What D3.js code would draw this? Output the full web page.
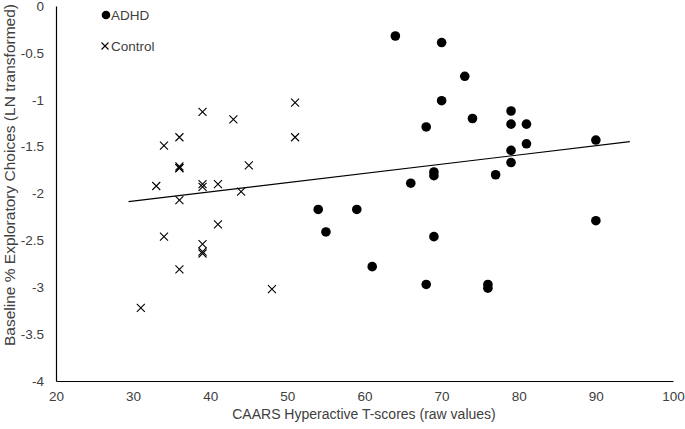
<!DOCTYPE html>
<html>
<head>
<meta charset="utf-8">
<script src="https://cdn.jsdelivr.net/npm/d3@7"></script>
<style>
  body { margin: 0; background: #fff; }
  text { font-family: "Liberation Sans", Arial, sans-serif; fill: #404040; }
</style>
</head>
<body>
<div id="scatter"></div>
<script>

// Data
// ==============================
var adhdX = [64, 70, 73, 70, 74, 68, 79, 79, 81, 81, 90, 79, 79, 77, 66, 69, 69, 54, 59, 55, 69, 61, 68, 76, 76, 90];
var adhdY = [-0.32, -0.39, -0.75, -1.01, -1.20, -1.29, -1.12, -1.26, -1.26, -1.47, -1.43, -1.54, -1.67, -1.80, -1.89, -1.77, -1.81, -2.17, -2.17, -2.41, -2.46, -2.78, -2.97, -2.97, -3.01, -2.29];

var controlX = [31, 33, 34, 34, 36, 36, 36, 36, 36, 36, 39, 39, 39, 39, 39, 39, 41, 41, 43, 44, 45, 48, 51, 51];
var controlY = [-3.22, -1.92, -1.49, -2.46, -1.40, -1.71, -1.73, -2.07, -2.81, -1.73, -1.13, -1.90, -1.93, -2.54, -2.62, -2.64, -1.90, -2.33, -1.21, -1.98, -1.70, -3.02, -1.03, -1.40];

// linear trendline endpoints
var trendX = [29.4, 94.4];
var trendY = [-2.087, -1.447];

var xTicks = [20, 30, 40, 50, 60, 70, 80, 90, 100];
var yTicks = [0, -0.5, -1, -1.5, -2, -2.5, -3, -3.5, -4];

// Set chart parameters
// ==============================
var svgWidth = 685;
var svgHeight = 429;

var svg = d3.select("#scatter")
  .append("svg")
  .attr("width", svgWidth)
  .attr("height", svgHeight);

var xScale = d3.scaleLinear().domain([20, 100]).range([56, 673]);
var yScale = d3.scaleLinear().domain([-4, 0]).range([381, 6]);

// Axes
// ==============================
var bottomAxis = d3.axisBottom(xScale).tickValues(xTicks).tickSize(0).tickPadding(10);
var leftAxis = d3.axisLeft(yScale).tickValues(yTicks).tickSize(0).tickPadding(12)
  .tickFormat(d => d === 0 ? "0" : String(d));

var xg = svg.append("g")
  .attr("transform", `translate(0, ${yScale(-4)})`)
  .call(bottomAxis);

var yg = svg.append("g")
  .attr("transform", `translate(${xScale(20)}, 0)`)
  .call(leftAxis);

[xg, yg].forEach(function(g) {
  g.select(".domain").attr("stroke", "#000").attr("stroke-width", 1.2);
  g.selectAll("text")
    .attr("font-size", 13.5)
    .attr("fill", "#404040")
    .style("font-family", "'Liberation Sans', Arial, sans-serif");
});

// Trendline
// ==============================
svg.append("line")
  .attr("x1", xScale(trendX[0]))
  .attr("y1", yScale(trendY[0]))
  .attr("x2", xScale(trendX[1]))
  .attr("y2", yScale(trendY[1]))
  .attr("stroke", "#000")
  .attr("stroke-width", 1.2);

// Control markers (crosses)
// ==============================
var cross = "M-4,-4L4,4M-4,4L4,-4";
svg.selectAll(".ctrl")
  .data(controlX.map((x, i) => ({ x: x, y: controlY[i] })))
  .enter()
  .append("path")
  .attr("class", "ctrl")
  .attr("d", cross)
  .attr("transform", d => `translate(${xScale(d.x)}, ${yScale(d.y)})`)
  .attr("fill", "none")
  .attr("stroke", "#000")
  .attr("stroke-width", 1.1);

// ADHD markers (filled circles)
// ==============================
svg.selectAll(".adhd")
  .data(adhdX.map((x, i) => ({ x: x, y: adhdY[i] })))
  .enter()
  .append("circle")
  .attr("class", "adhd")
  .attr("cx", d => xScale(d.x))
  .attr("cy", d => yScale(d.y))
  .attr("r", 4.8)
  .attr("fill", "#000");

// Legend
// ==============================
svg.append("circle")
  .attr("cx", 106).attr("cy", 15).attr("r", 4.3).attr("fill", "#000");
svg.append("text")
  .attr("x", 111).attr("y", 20).attr("font-size", 13.5).text("ADHD");

svg.append("path")
  .attr("d", "M-3.5,-3.5L3.5,3.5M-3.5,3.5L3.5,-3.5")
  .attr("transform", "translate(105, 46)")
  .attr("fill", "none").attr("stroke", "#000").attr("stroke-width", 1.1);
svg.append("text")
  .attr("x", 111).attr("y", 51).attr("font-size", 13.5).text("Control");

// Axis labels
// ==============================
svg.append("text")
  .attr("transform", "translate(15, 175) rotate(-90)")
  .attr("text-anchor", "middle")
  .attr("font-size", 15.5)
  .text("Baseline % Exploratory Choices (LN transformed)");

svg.append("text")
  .attr("x", 364)
  .attr("y", 419)
  .attr("text-anchor", "middle")
  .attr("font-size", 14)
  .text("CAARS Hyperactive T-scores (raw values)");
</script>
</body>
</html>
